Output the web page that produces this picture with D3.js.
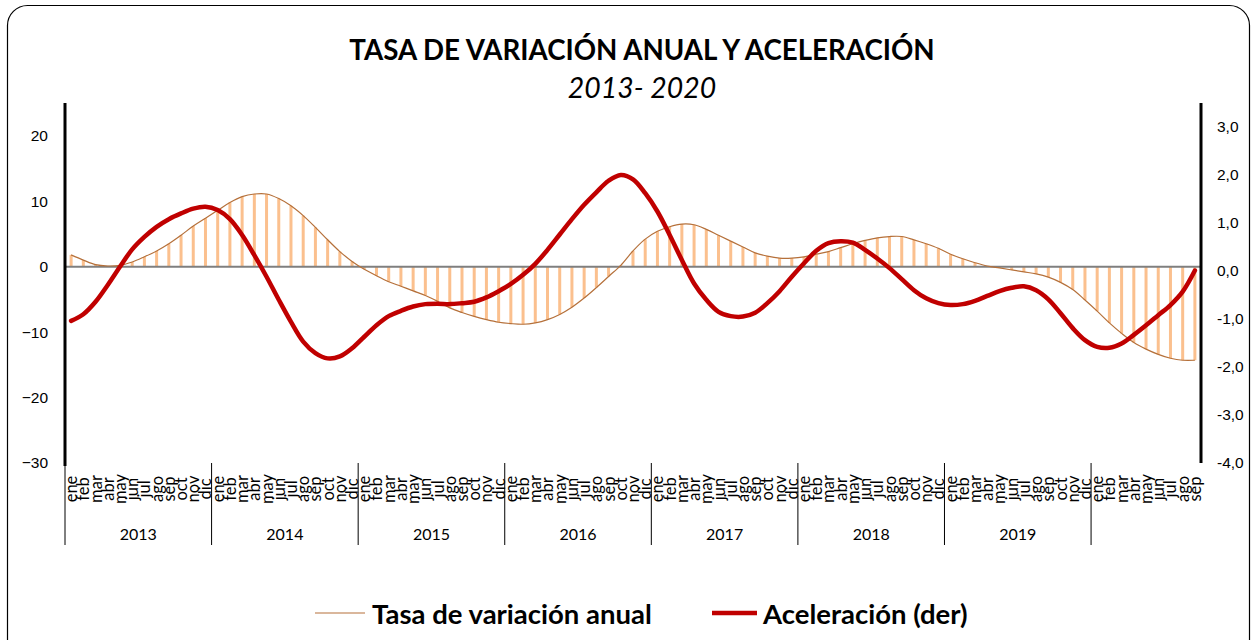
<!DOCTYPE html>
<html lang="es">
<head>
<meta charset="UTF-8">
<title>Tasa de variación anual y aceleración</title>
<script src="https://d3js.org/d3.v7.min.js"></script>
<style>
  body { margin: 0; background: #fff; font-family: Lato, "Liberation Sans", sans-serif; }
  svg { display: block; }
  .tick text { font-size: 15.5px; fill: #000; }
</style>
</head>
<body>
<svg width="1256" height="640"></svg>
<script>
// Datos: enero 2013 - septiembre 2020
const meses = ["ene","feb","mar","abr","may","jun","jul","ago","sep","oct","nov","dic"];
const anios = ["2013","2014","2015","2016","2017","2018","2019","2020"];
const etiquetasAnio = ["2013","2014","2015","2016","2017","2018","2019",""];
const mesesUltimoAnio = 9;

// Tasa de variación anual (eje izquierdo)
const tasa = [
  1.8, 1.0, 0.3, 0.1, 0.2, 0.7, 1.5, 2.4, 3.5, 4.8, 6.2, 7.4,
  8.6, 9.8, 10.7, 11.1, 11.1, 10.4, 9.3, 7.8, 6.0, 4.1, 2.3, 0.8,
  -0.4, -1.4, -2.3, -3.0, -3.7, -4.4, -5.3, -6.3, -7.0, -7.6, -8.1, -8.5,
  -8.7, -8.8, -8.6, -8.1, -7.3, -6.2, -4.8, -3.2, -1.5, 0.2, 2.4, 4.2,
  5.4, 6.1, 6.5, 6.4, 5.7, 4.8, 3.9, 3.0, 2.1, 1.6, 1.3, 1.3,
  1.5, 1.9, 2.3, 2.9, 3.5, 4.0, 4.4, 4.6, 4.6, 4.1, 3.5, 2.8,
  1.9, 1.2, 0.6, 0.1, -0.2, -0.5, -0.8, -1.1, -1.6, -2.4, -3.5, -5.1,
  -6.8, -8.6, -10.2, -11.6, -12.6, -13.4, -14.0, -14.3, -14.3
];

// Aceleración (eje derecho)
const acel = [
  -1.04, -0.90, -0.64, -0.29, 0.09, 0.45, 0.71, 0.92, 1.08, 1.20, 1.30, 1.34,
  1.27, 1.08, 0.75, 0.33, -0.12, -0.60, -1.06, -1.47, -1.71, -1.82, -1.78, -1.61,
  -1.37, -1.13, -0.94, -0.83, -0.74, -0.69, -0.68, -0.69, -0.67, -0.64, -0.55, -0.42,
  -0.27, -0.08, 0.15, 0.44, 0.76, 1.08, 1.38, 1.64, 1.88, 2.00, 1.91, 1.62,
  1.24, 0.75, 0.23, -0.26, -0.60, -0.85, -0.94, -0.95, -0.87, -0.67, -0.42, -0.12,
  0.16, 0.42, 0.58, 0.62, 0.59, 0.44, 0.26, 0.06, -0.17, -0.40, -0.57, -0.67,
  -0.71, -0.69, -0.62, -0.52, -0.42, -0.35, -0.32, -0.40, -0.59, -0.88, -1.19, -1.44,
  -1.58, -1.60, -1.51, -1.33, -1.13, -0.92, -0.71, -0.43, 0.01
];

const ticksIzq = [-30, -20, -10, 0, 10, 20];
const ticksDer = [-4, -3, -2, -1, 0, 1, 2, 3];

// categorías (año, mes)
const categorias = [];
anios.forEach((a, k) => {
  const n = k === anios.length - 1 ? mesesUltimoAnio : 12;
  for (let m = 0; m < n; m++) categorias.push({anio: a, mes: meses[m], idx: categorias.length});
});

const svg = d3.select("svg");
const mLeft = 65, mRight = 1201, mTop = 103, mBottom = 463;

// marco redondeado
svg.append("rect")
  .attr("x", 7.5).attr("y", 5.5)
  .attr("width", 1242).attr("height", 660)
  .attr("rx", 20)
  .attr("fill", "none").attr("stroke", "#000").attr("stroke-width", 1.2);

// títulos
svg.append("text")
  .attr("x", 642).attr("y", 60)
  .attr("text-anchor", "middle")
  .style("font-size", "27.7px").style("font-weight", "bold")
  .text("TASA DE VARIACIÓN ANUAL Y ACELERACIÓN");
svg.append("text")
  .attr("x", 642).attr("y", 98)
  .attr("text-anchor", "middle")
  .style("font-size", "28.4px").style("font-style", "italic")
  .text("2013- 2020");

const x = d3.scaleBand()
  .domain(categorias.map(d => d.idx))
  .range([mLeft, mRight])
  .padding(0);
const xc = i => x(i) + x.bandwidth() / 2;

const yL = d3.scaleLinear().domain([-30, 25]).range([mBottom, mTop]);
const yR = d3.scaleLinear().domain([-4, 3.5]).range([mBottom, mTop]);

// ejes
svg.append("g")
  .attr("transform", `translate(${mLeft},0)`)
  .call(d3.axisLeft(yL).tickValues(ticksIzq).tickSize(0).tickPadding(17))
  .call(g => g.select(".domain").remove());

svg.append("g")
  .attr("transform", `translate(${mRight},0)`)
  .call(d3.axisRight(yR).tickValues(ticksDer).tickSize(0).tickPadding(16)
    .tickFormat(d => d.toFixed(1).replace(".", ",")))
  .call(g => g.select(".domain").remove());

// barras de la tasa
svg.append("g")
  .selectAll("rect")
  .data(tasa)
  .join("rect")
    .attr("x", (d, i) => xc(i) - 1.5)
    .attr("width", 3)
    .attr("y", d => Math.min(yL(d), yL(0)))
    .attr("height", d => Math.abs(yL(d) - yL(0)))
    .attr("fill", "#FBC08E");

// línea cero
svg.append("line")
  .attr("x1", mLeft).attr("x2", mRight)
  .attr("y1", yL(0)).attr("y2", yL(0))
  .attr("stroke", "#7f7f7f").attr("stroke-width", 2);

// línea de la tasa
svg.append("path")
  .datum(tasa)
  .attr("fill", "none")
  .attr("stroke", "#B5703A")
  .attr("stroke-width", 1.2)
  .attr("d", d3.line().x((d, i) => xc(i)).y(d => yL(d)).curve(d3.curveCatmullRom));

// aceleración
svg.append("path")
  .datum(acel)
  .attr("fill", "none")
  .attr("stroke", "#C00000")
  .attr("stroke-width", 4.5)
  .attr("stroke-linecap", "round")
  .attr("stroke-linejoin", "round")
  .attr("d", d3.line().x((d, i) => xc(i)).y(d => yR(d)).curve(d3.curveCatmullRom));

// líneas de los ejes
svg.append("line")
  .attr("x1", mLeft).attr("x2", mLeft).attr("y1", mTop).attr("y2", mBottom + 3)
  .attr("stroke", "#000").attr("stroke-width", 3);
svg.append("line")
  .attr("x1", mRight).attr("x2", mRight).attr("y1", mTop).attr("y2", mBottom)
  .attr("stroke", "#000").attr("stroke-width", 3);

// etiquetas de meses
svg.append("g")
  .selectAll("text")
  .data(categorias)
  .join("text")
    .attr("transform", d => `translate(${xc(d.idx)},489) rotate(-90)`)
    .attr("text-anchor", "middle")
    .attr("dominant-baseline", "central")
    .style("font-size", "16.5px")
    .text(d => d.mes);

// separadores y etiquetas de años
const inicioAnio = anios.map(a => categorias.find(c => c.anio === a).idx);
svg.append("g")
  .selectAll("line")
  .data(inicioAnio)
  .join("line")
    .attr("x1", i => x(i)).attr("x2", i => x(i))
    .attr("y1", mBottom).attr("y2", 545)
    .attr("stroke", "#000").attr("stroke-width", 1);

svg.append("g")
  .selectAll("text")
  .data(anios)
  .join("text")
    .attr("x", (a, k) => {
      const n = k === anios.length - 1 ? mesesUltimoAnio : 12;
      return x(inicioAnio[k]) + n * x.bandwidth() / 2;
    })
    .attr("y", 533)
    .attr("text-anchor", "middle")
    .attr("dominant-baseline", "central")
    .style("font-size", "16px")
    .text((a, k) => etiquetasAnio[k]);

// leyenda
const ley = svg.append("g").style("font-size", "27.5px").style("font-weight", "bold");
ley.append("line").attr("x1", 315).attr("x2", 365).attr("y1", 613).attr("y2", 613)
  .attr("stroke", "#B5703A").attr("stroke-width", 1.2);
ley.append("text").attr("x", 372).attr("y", 613).attr("dominant-baseline", "central")
  .text("Tasa de variación anual");
ley.append("line").attr("x1", 712).attr("x2", 757).attr("y1", 613).attr("y2", 613)
  .attr("stroke", "#C00000").attr("stroke-width", 4.5);
ley.append("text").attr("x", 763).attr("y", 613).attr("dominant-baseline", "central")
  .text("Aceleración (der)");
</script>
</body>
</html>
